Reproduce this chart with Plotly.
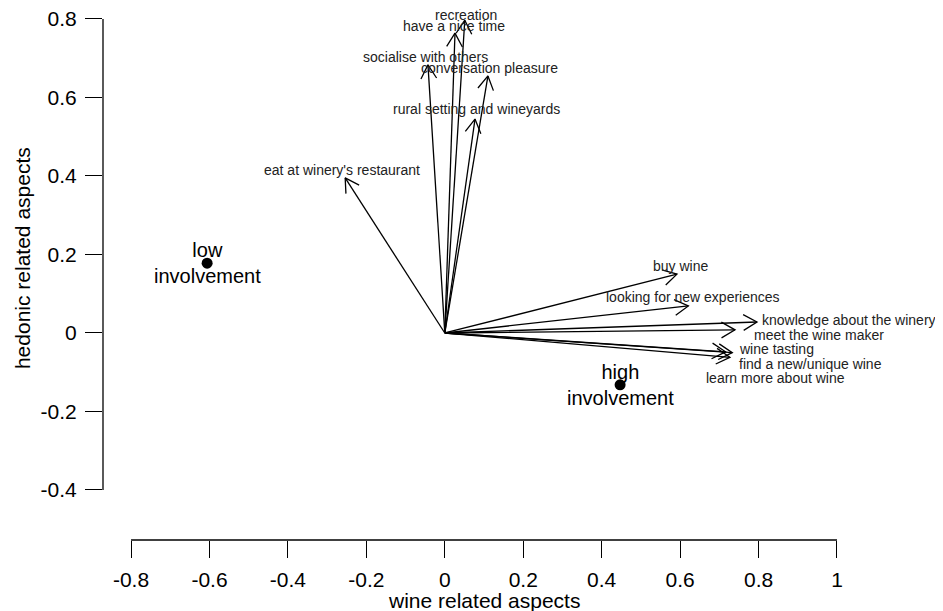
import numpy as np
import plotly.graph_objects as go

# ---- data ----
variables = ["recreation", "have a nice time", "socialise with others",
             "conversation pleasure", "rural setting and wineyards",
             "eat at winery's restaurant", "buy wine", "looking for new experiences",
             "knowledge about the winery", "meet the wine maker", "wine tasting",
             "find a new/unique wine", "learn more about wine"]
var_x = [0.051, 0.026, -0.043, 0.110, 0.077, -0.254, 0.592, 0.621,
         0.796, 0.740, 0.733, 0.716, 0.727]
var_y = [0.797, 0.764, 0.683, 0.655, 0.545, 0.395, 0.150, 0.069,
         0.028, 0.008, -0.050, -0.048, -0.062]
label_x = [0.054, 0.023, -0.050, 0.115, 0.082, -0.262, 0.602, 0.632,
           0.803, 0.783, 0.745, 0.745, 0.661]
label_y = [0.809, 0.783, 0.703, 0.675, 0.571, 0.415, 0.171, 0.092,
           0.033, -0.005, -0.041, -0.079, -0.115]
label_anchor = ["center"] * 8 + ["left"] * 5

groups = ["low<br>involvement", "high<br>involvement"]
group_x = [-0.606, 0.447]
group_y = [0.178, -0.132]

x_ticks = [-0.8, -0.6, -0.4, -0.2, 0, 0.2, 0.4, 0.6, 0.8, 1]
x_ticktext = ["-0.8", "-0.6", "-0.4", "-0.2", "0", "0.2", "0.4", "0.6", "0.8", "1"]
y_ticks = [-0.4, -0.2, 0, 0.2, 0.4, 0.6, 0.8]
y_ticktext = ["-0.4", "-0.2", "0", "0.2", "0.4", "0.6", "0.8"]

FONT = "Liberation Sans, Arial, Helvetica, sans-serif"

# ---- arrows (shafts + open V heads) ----
shaft_x, shaft_y, head_x, head_y = [], [], [], []
L = 0.040
ang = np.deg2rad(30)
for x, y in zip(var_x, var_y):
    shaft_x += [0, x, None]
    shaft_y += [0, y, None]
    th = np.arctan2(-y, -x)
    head_x += [x + L * np.cos(th + ang), x, x + L * np.cos(th - ang), None]
    head_y += [y + L * np.sin(th + ang), y, y + L * np.sin(th - ang), None]

fig = go.Figure()
fig.add_trace(go.Scatter(x=shaft_x, y=shaft_y, mode="lines",
                         line=dict(color="black", width=1.3), hoverinfo="skip",
                         showlegend=False))
fig.add_trace(go.Scatter(x=head_x, y=head_y, mode="lines",
                         line=dict(color="black", width=1.3), hoverinfo="skip",
                         showlegend=False))
fig.add_trace(go.Scatter(x=group_x, y=group_y, mode="markers",
                         marker=dict(color="black", size=11), showlegend=False))

annotations = []
for t, x, y, a in zip(variables, label_x, label_y, label_anchor):
    annotations.append(dict(x=x, y=y, xref="x", yref="y", text=t, showarrow=False,
                            xanchor=a, yanchor="middle",
                            font=dict(family=FONT, size=14, color="#222")))
for t, x, y in zip(groups, group_x, group_y):
    annotations.append(dict(x=x, y=y, xref="x", yref="y", text=t, showarrow=False,
                            xanchor="center", yanchor="middle",
                            font=dict(family=FONT, size=20, color="black")))
annotations.append(dict(x=0.4536, y=-0.1128, xref="paper", yref="paper",
                        text="wine related aspects", showarrow=False,
                        xanchor="center", yanchor="middle",
                        font=dict(family=FONT, size=21, color="black")))
annotations.append(dict(x=-0.0964, y=0.530, xref="paper", yref="paper",
                        text="hedonic related aspects", showarrow=False, textangle=-90,
                        xanchor="center", yanchor="middle",
                        font=dict(family=FONT, size=21, color="black")))

shapes = [
    dict(type="line", xref="x", yref="paper", x0=min(x_ticks), x1=max(x_ticks), y0=0, y1=0,
         line=dict(color="black", width=1.3)),
    dict(type="line", xref="paper", yref="y", x0=0, x1=0, y0=min(y_ticks), y1=max(y_ticks),
         line=dict(color="black", width=1.3)),
]

fig.update_layout(
    width=935, height=603,
    margin=dict(l=95, r=0, t=0, b=71),
    paper_bgcolor="white", plot_bgcolor="white",
    annotations=annotations, shapes=shapes,
    xaxis=dict(range=[-0.8715, 1.2703], tickvals=x_ticks, ticktext=x_ticktext,
               ticks="outside", ticklen=17, tickwidth=1.3, tickcolor="black",
               showgrid=False, zeroline=False, showline=False, ticklabelstandoff=4,
               ticklabeloverflow="allow",
               tickfont=dict(family=FONT, size=21, color="black")),
    yaxis=dict(range=[-0.5274, 0.828], tickvals=y_ticks, ticktext=y_ticktext,
               ticks="outside", ticklen=17, tickwidth=1.3, tickcolor="black",
               showgrid=False, zeroline=False, showline=False, ticklabelstandoff=4,
               ticklabeloverflow="allow",
               tickfont=dict(family=FONT, size=21, color="black")),
)

fig.write_html("out.html")
